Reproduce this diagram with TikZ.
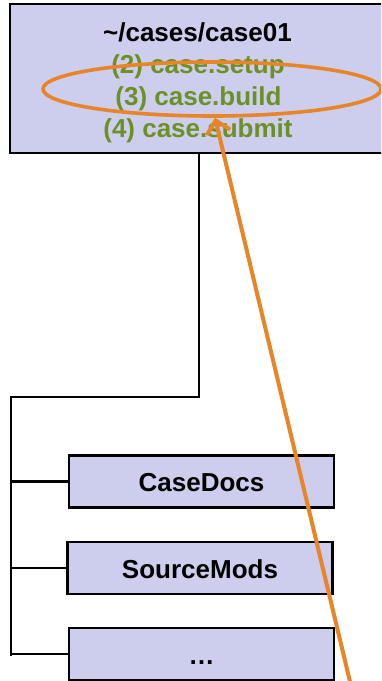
\documentclass[tikz,border=0pt]{standalone}
\usepackage{fontspec}
\setmainfont{Liberation Sans}
\usetikzlibrary{arrows.meta,shapes.geometric}
\definecolor{boxfill}{RGB}{205,205,238}
\definecolor{stepgreen}{RGB}{108,144,38}
\definecolor{hlorange}{RGB}{232,133,38}
\begin{document}
\begin{tikzpicture}[x=1pt,y=-1pt,
  dirbox/.style={draw=black, line width=2.6pt, fill=boxfill, minimum width=265pt, minimum height=52pt, inner sep=0pt, text height=20pt, text depth=0pt, font=\bfseries\fontsize{26}{31}\selectfont},
  toptext/.style={anchor=base, inner sep=0pt, font=\bfseries\fontsize{26}{31}\selectfont},
  tree/.style={draw=black, line width=2.6pt},
  hl/.style={draw=hlorange, line width=3.6pt}]
\useasboundingbox (0,0) rectangle (381,681);
\clip (0,0) rectangle (381,681);
\fill[white] (0,0) rectangle (381,681);
\node[draw=black, line width=2.7pt, fill=boxfill, minimum width=376pt, minimum height=149pt, inner sep=0pt] (top) at (198,78.5) {};
\node[toptext] (path) at (197.5,41) {\textasciitilde/cases/case01};
\node[toptext, text=stepgreen] (setup) at (198,73) {(2) case.setup};
\node[toptext, text=stepgreen] (build) at (198.5,105) {(3) case.build};
\node[toptext, text=stepgreen] (submit) at (198,137) {(4) case.submit};
\node[dirbox] (docs) at (201.5,481.5) {CaseDocs};
\node[dirbox] (mods) at (200,568) {SourceMods};
\node[dirbox] (more) at (201.5,654) {…};
\coordinate (trunk) at (11,397);
\coordinate (trunkend) at (11,656);
\draw[tree] ([xshift=1pt]top.south) |- (trunk) -- (trunkend);
\draw[tree] (trunk |- docs.west) -- (docs.west);
\draw[tree] (trunk |- mods.west) -- (mods.west);
\draw[tree] (trunk |- more.west) -- (more.west);
\node[hl, ellipse, minimum width=338pt, minimum height=54pt, inner sep=0pt] (ring) at (212,89) {};
\coordinate (tail) at (352,690);
\draw[hl, line width=4pt, -{Straight Barb[length=12pt,width=24pt]}] (tail) -- ([xshift=3pt]ring.south);
\end{tikzpicture}
\end{document}
